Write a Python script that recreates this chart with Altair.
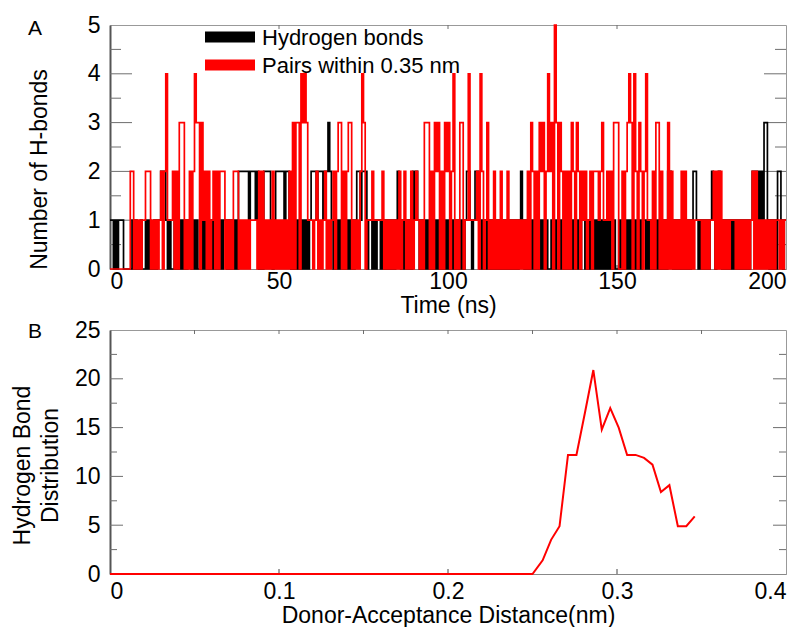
import altair as alt
import pandas as pd

# ---------------- Panel A data (0.5 ns sampling, 10 ns per block) ----------------
hbond_blocks = [
    "11010111000001010010", "01010010112221010010", "10101011010100101001", "01010101101010102222",
    "22122212010222210122", "22212210101010101012", "22122212232101010101", "01010122122201101011",
    "01010101012101010102", "12101010101010101010", "10101010101221012210", "10101010101010101010",
    "10121010101010101010", "01010101010101010101", "10101010101010101010", "01010101010101011010",
    "10101010102210101010", "10101221010101012101", "21010101010101010101", "22121213310101022101",
]
hbond_last = 1
pairs_blocks = [
    "00000000000022010101", "12220101012024111202", "03330102024330312020", "12020222010102220101",
    "01011110202010102010", "10101020303304343111", "01201012010120233020", "23301010243011121111",
    "12010101010201201020", "12101033302032302032", "30240103301141111204", "20130102010201020101",
    "01010102032020323024", "23053032020203203202", "12012022212311212033", "30020234304203202411",
    "02033020103020101020", "20101011110101011202", "02010101110101010101", "20201010101010110101",
]
pairs_last = 1

hbond = [int(c) for b in hbond_blocks for c in b] + [hbond_last]
pairs = [int(c) for b in pairs_blocks for c in b] + [pairs_last]
time_ns = [i * 0.5 for i in range(len(hbond))]

series_names = ["Hydrogen bonds", "Pairs within 0.35 nm"]
series_colors = ["#000000", "#ff0000"]

# tick positions
a_x_ticks = [50, 100, 150]
a_y_major = [1, 2, 3, 4]
a_y_minor = [0.5, 1.5, 2.5, 3.5, 4.5]
b_x_ticks_bottom = [0.1, 0.2, 0.3]
b_x_ticks_top = [0.05, 0.1, 0.15, 0.2, 0.25, 0.3, 0.35]
b_y_major = [5, 10, 15, 20]
b_y_minor = [2.5, 7.5, 12.5, 17.5, 22.5]

# ---------------- Panel B data ----------------
dist_nm = [0.0, 0.250, 0.256, 0.261, 0.266, 0.271, 0.276, 0.281, 0.286, 0.291, 0.296,
           0.301, 0.306, 0.311, 0.316, 0.321, 0.326, 0.331, 0.336, 0.341, 0.346]
dist_val = [0.0, 0.0, 1.4, 3.5, 4.9, 12.2, 12.2, 16.5, 20.9, 14.8, 17.0,
            15.0, 12.2, 12.2, 11.9, 11.2, 8.4, 9.1, 4.9, 4.9, 5.9]

W, HA, HB = 676, 244, 244
FONT = "Liberation Sans"
TICK = "#6e6e6e"

dfA_b = pd.DataFrame({"t": time_ns, "v": hbond})
dfA_r = pd.DataFrame({"t": time_ns, "v": pairs})
dfB = pd.DataFrame({"d": dist_nm, "y": dist_val})

xsA = alt.Scale(domain=[0, 200], nice=False, zero=False)
ysA = alt.Scale(domain=[0, 5], nice=False)
xsB = alt.Scale(domain=[0, 0.4], nice=False, zero=False)
ysB = alt.Scale(domain=[0, 25], nice=False)


def y_ticks(vals, ys, size):
    df = pd.DataFrame({"v": vals})
    left = alt.Chart(df).mark_rule(color=TICK, strokeWidth=1).encode(
        y=alt.Y("v:Q", scale=ys, axis=None), x=alt.value(0), x2=alt.value(size))
    right = alt.Chart(df).mark_rule(color=TICK, strokeWidth=1).encode(
        y=alt.Y("v:Q", scale=ys, axis=None), x=alt.value(W - size), x2=alt.value(W))
    return [left, right]


def x_ticks(vals, xs, h, size, top):
    df = pd.DataFrame({"v": vals})
    if top:
        return alt.Chart(df).mark_rule(color=TICK, strokeWidth=1).encode(
            x=alt.X("v:Q", scale=xs, axis=None), y=alt.value(0), y2=alt.value(size))
    return alt.Chart(df).mark_rule(color="#444444", strokeWidth=1).encode(
        x=alt.X("v:Q", scale=xs, axis=None), y=alt.value(h - size), y2=alt.value(h))


# ---- Panel A layers
axA_x = alt.Axis(orient="bottom", values=[0, 50, 100, 150, 200], ticks=False, tickSize=0,
                 labelPadding=1, title="Time (ns)", titlePadding=1, grid=False,
                 domainColor="#888888", domainWidth=1)
axA_y = alt.Axis(orient="left", values=[0, 1, 2, 3, 4, 5], ticks=False, tickSize=0,
                 labelPadding=10, title="Number of H-bonds", titleX=-71, titleY=144,
                 titleBaseline="middle", grid=False, domainColor="#555555", domainWidth=2)

lineA_b = alt.Chart(dfA_b).mark_line(color=series_colors[0], strokeWidth=1.7,
                                     interpolate="step-after").encode(
    x=alt.X("t:Q", scale=xsA, axis=axA_x), y=alt.Y("v:Q", scale=ysA, axis=axA_y))
lineA_r = alt.Chart(dfA_r).mark_line(color=series_colors[1], strokeWidth=1.7,
                                     interpolate="step-after").encode(
    x=alt.X("t:Q", scale=xsA, axis=None), y=alt.Y("v:Q", scale=ysA, axis=None))

ticksA = y_ticks(a_y_major, ysA, 22) + y_ticks(a_y_minor, ysA, 11) + [
    x_ticks(a_x_ticks, xsA, HA, 4, True), x_ticks(a_x_ticks, xsA, HA, 4, False)]

leg_df0 = pd.DataFrame({"label": [series_names[0]]})
leg_df1 = pd.DataFrame({"label": [series_names[1]]})
legend_layers = [
    alt.Chart(leg_df0).mark_rule(color=series_colors[0], strokeWidth=11, strokeCap="butt").encode(
        x=alt.value(95), x2=alt.value(145), y=alt.value(12)),
    alt.Chart(leg_df1).mark_rule(color=series_colors[1], strokeWidth=11, strokeCap="butt").encode(
        x=alt.value(95), x2=alt.value(145), y=alt.value(40)),
    alt.Chart(leg_df0).mark_text(align="left", baseline="middle", fontSize=22, font=FONT).encode(
        x=alt.value(152), y=alt.value(13), text="label:N"),
    alt.Chart(leg_df1).mark_text(align="left", baseline="middle", fontSize=22, font=FONT).encode(
        x=alt.value(152), y=alt.value(41), text="label:N"),
]
tagA = alt.Chart(pd.DataFrame({"tag": ["A"]})).mark_text(fontSize=21, font=FONT).encode(
    x=alt.value(-75), y=alt.value(4), text="tag:N")

panelA = alt.layer(*ticksA, lineA_b, lineA_r, *legend_layers, tagA).resolve_axis(
    x="independent", y="independent").properties(width=W, height=HA)

# ---- Panel B layers
axB_x = alt.Axis(orient="bottom", values=[0, 0.1, 0.2, 0.3, 0.4], format="~g", ticks=False, tickSize=0,
                 labelPadding=6, title="Donor-Acceptance Distance(nm)", titlePadding=1, grid=False,
                 domainColor="#888888", domainWidth=1)
axB_y = alt.Axis(orient="left", values=[0, 5, 10, 15, 20, 25], ticks=False, tickSize=0,
                 labelPadding=10, title=["Hydrogen Bond", "Distribution"], titleX=-88, titleY=135,
                 titleBaseline="middle", titleLineHeight=28, grid=False,
                 domainColor="#555555", domainWidth=2)

lineB = alt.Chart(dfB).mark_line(color="#ff0000", strokeWidth=2).encode(
    x=alt.X("d:Q", scale=xsB, axis=axB_x), y=alt.Y("y:Q", scale=ysB, axis=axB_y))

ticksB = y_ticks(b_y_major, ysB, 13) + y_ticks(b_y_minor, ysB, 7) + [
    x_ticks(b_x_ticks_top, xsB, HB, 4, True), x_ticks(b_x_ticks_bottom, xsB, HB, 5, False)]
tagB = alt.Chart(pd.DataFrame({"tag": ["B"]})).mark_text(fontSize=21, font=FONT).encode(
    x=alt.value(-75), y=alt.value(2), text="tag:N")

panelB = alt.layer(*ticksB, lineB, tagB).resolve_axis(
    x="independent", y="independent").properties(width=W, height=HB)

chart = alt.vconcat(panelA, panelB, spacing=61, bounds="flush").properties(
    padding={"left": 10, "top": 13, "right": 0, "bottom": 0}
).configure(font=FONT, background="white").configure_axis(
    labelFont=FONT, titleFont=FONT, labelFontSize=23, titleFontSize=23, labelColor="black",
    titleColor="black", titleFontWeight="normal"
).configure_view(stroke="#999999", strokeWidth=1)

chart.save("out.html", embed_options={"renderer": "svg", "actions": False})
